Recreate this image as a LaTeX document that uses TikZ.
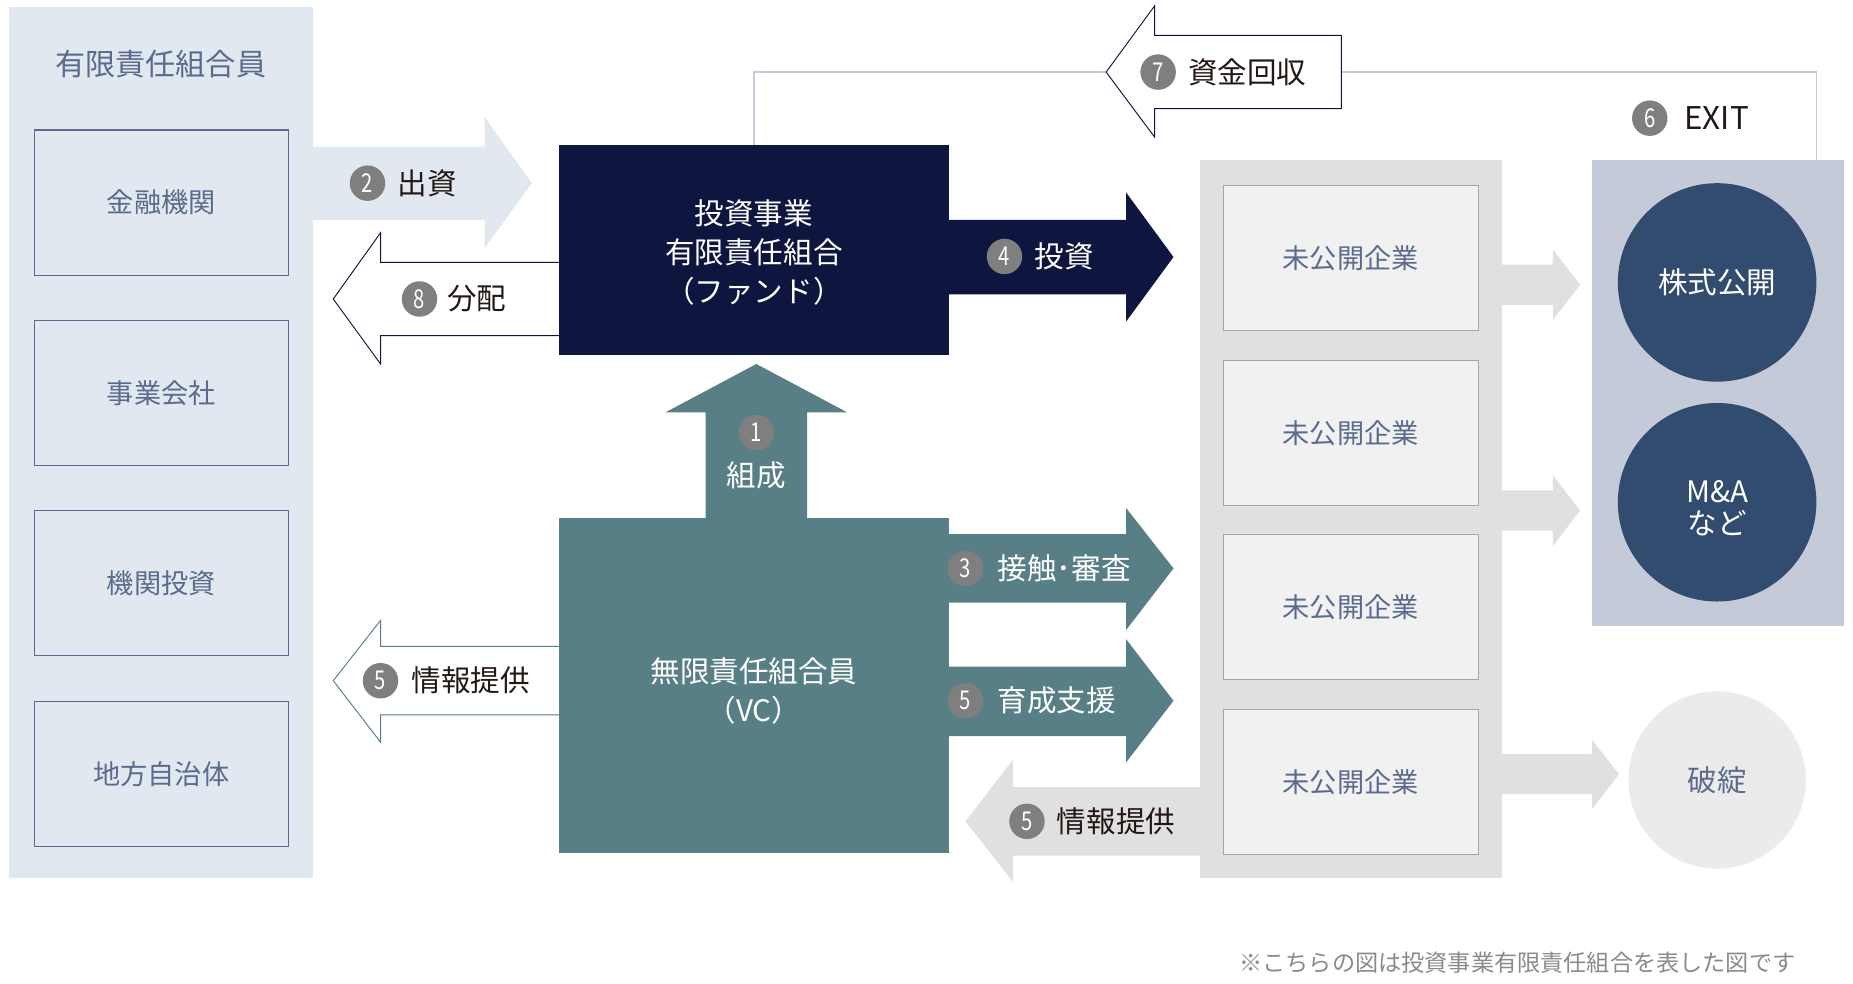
\documentclass[tikz,border=0pt]{standalone}
\usepackage{fontspec}
\setmainfont{Noto Sans CJK JP}
\newfontfamily\numfont[FakeStretch=0.78]{Noto Sans CJK JP}
\usetikzlibrary{positioning}

\definecolor{panelblue}{HTML}{E1E8EF}
\definecolor{slate}{HTML}{5B6B8E}
\definecolor{fundnavy}{HTML}{0E1640}
\definecolor{vcteal}{HTML}{577F85}
\definecolor{lightgray}{HTML}{E0E0E0}
\definecolor{cobox}{HTML}{F1F1F1}
\definecolor{coline}{HTML}{A6A6A6}
\definecolor{exitpanel}{HTML}{C4CAD8}
\definecolor{exitdot}{HTML}{324C70}
\definecolor{faildot}{HTML}{EBEBEB}
\definecolor{linkgray}{HTML}{C5CBD8}
\definecolor{darktext}{HTML}{231815}
\definecolor{numgray}{HTML}{7F7F7F}
\definecolor{notegray}{HTML}{8A8A8A}

\begin{document}
\begin{tikzpicture}[x=1pt, y=-1pt,
  panel/.style={inner sep=0pt},
  member/.style={draw=slate, line width=1pt, minimum width=215, minimum height=123, inner sep=0pt, text=slate, font=\fontsize{23}{23}\selectfont},
  company/.style={draw=coline, fill=cobox, line width=0.8pt, minimum width=216, minimum height=123, inner sep=0pt, text=slate, font=\fontsize{23}{23}\selectfont},
  numdot/.style={circle, fill=numgray, text=white, minimum size=30pt, inner sep=0pt, font=\numfont\fontsize{22}{22}\selectfont},
  flowtext/.style={inner sep=0pt, text=darktext, font=\fontsize{25}{25}\selectfont},
  bigtext/.style={inner sep=0pt, align=center, text=white, font=\fontsize{25}{33}\selectfont},
  linkline/.style={draw=linkgray, line width=1.2pt},
]
\useasboundingbox (0,0) rectangle (1568,832);

% panels
\node[panel, fill=panelblue, minimum width=257, minimum height=737] (lpanel) at (136.5,374.5) {};
\node[panel, fill=lightgray, minimum width=256, minimum height=608] (copanel) at (1143,439) {};
\node[panel, fill=exitpanel, minimum width=213, minimum height=395] (expanel) at (1453.5,332.5) {};

% limited partners
\node[text=slate, font=\fontsize{25.5}{25.5}\selectfont] (lptitle) at (136,54) {有限責任組合員};
\node[member] (bank) at (136.5,171.5) {金融機関};
\node[member] (corp) at (136.5,332.5) {事業会社};
\node[member] (inst) at (136.5,493.5) {機関投資};
\node[member] (local) at (136.5,655) {地方自治体};

% 7 return line
\coordinate (a7tip) at (936,61);
\coordinate (a7end) at (1135,61);
\coordinate (exittop) at (1537,135);
\node[panel, minimum width=330, minimum height=177] (fundpos) at (638,211.5) {};
\draw[linkline] (fundpos.north) |- (a7tip);
\draw[linkline] (a7end) -| (exittop);

% block arrows
\fill[panelblue] (260,124) -- (410,124) -- (410,99) -- (450,155) -- (410,210) -- (410,186) -- (260,186) -- cycle;
\draw[fundnavy, fill=white, line width=0.8pt] (480,222) -- (322,222) -- (322,197) -- (282,253) -- (322,308) -- (322,284) -- (480,284);
\draw[fundnavy, fill=white, line width=0.8pt] (1135,30) -- (977,30) -- (977,5) -- (936,61) -- (977,116) -- (977,92) -- (1135,92) -- cycle;
\fill[fundnavy] (798,186) -- (953,186) -- (953,163) -- (993,217.5) -- (953,272) -- (953,249) -- (798,249) -- cycle;
\fill[vcteal] (597,443) -- (597,349) -- (563,349) -- (640,308) -- (717,349) -- (683,349) -- (683,443) -- cycle;
\fill[vcteal] (798,452) -- (953,452) -- (953,430) -- (993,481) -- (953,533) -- (953,510) -- (798,510) -- cycle;
\fill[vcteal] (798,564) -- (953,564) -- (953,541) -- (993,593) -- (953,645) -- (953,623) -- (798,623) -- cycle;
\draw[vcteal, fill=white, line width=0.8pt] (480,547) -- (322,547) -- (322,525) -- (282,576) -- (322,628) -- (322,605) -- (480,605);
\fill[lightgray] (1020,666) -- (857,666) -- (857,643) -- (817,695) -- (857,746) -- (857,724) -- (1020,724) -- cycle;
\fill[lightgray] (1266,224) -- (1314,224) -- (1314,211) -- (1337,241) -- (1314,271) -- (1314,258) -- (1266,258) -- cycle;
\fill[lightgray] (1266,415) -- (1314,415) -- (1314,402) -- (1337,432) -- (1314,462) -- (1314,449) -- (1266,449) -- cycle;
\fill[lightgray] (1266,638) -- (1347,638) -- (1347,626) -- (1370,655) -- (1347,685) -- (1347,672) -- (1266,672) -- cycle;

% fund and VC
\node[panel, fill=fundnavy, minimum width=330, minimum height=177] (fund) at (638,211.5) {};
\node[bigtext] (fundtext) at (638,213.5) {投資事業\\有限責任組合\\（ファンド）};
\node[panel, fill=vcteal, minimum width=330, minimum height=284] (vc) at (638,580) {};
\node[bigtext] (vctext) at (638,585) {無限責任組合員\\（VC）};

% companies
\node[company] (co1) at (1143,218.5) {未公開企業};
\node[company] (co2) at (1143,366.5) {未公開企業};
\node[company] (co3) at (1143,513.5) {未公開企業};
\node[company] (co4) at (1143,661.5) {未公開企業};

% exits
\node[circle, fill=exitdot, minimum size=168pt, inner sep=0pt, text=white, font=\fontsize{25}{25}\selectfont] (ipo) at (1453,239) {株式公開};
\node[circle, fill=exitdot, minimum size=168pt, inner sep=0pt] (mna) at (1453,425) {};
\node[inner sep=0pt, text=white, align=center, font=\fontsize{25}{27}\selectfont] (mnatext) at (1453,430) {M\&A\\など};
\node[circle, fill=faildot, minimum size=150pt, inner sep=0pt, text=slate, font=\fontsize{25}{25}\selectfont] (fail) at (1453,660) {破綻};

% step labels
\node[numdot] (n2) at (311,155) {2};
\node[flowtext, right=10pt of n2] (t2) {出資};
\node[numdot] (n8) at (355,253) {8};
\node[flowtext, right=8pt of n8] (t8) {分配};
\node[numdot] (n7) at (980,61) {7};
\node[flowtext, right=10pt of n7] (t7) {資金回収};
\node[numdot] (n6) at (1396,100) {6};
\node[flowtext, font=\fontsize{26.5}{26.5}\selectfont, right=14pt of n6] (t6) {EXIT};
\node[numdot] (n4) at (850,217) {4};
\node[flowtext, text=white, right=10pt of n4] (t4) {投資};
\node[numdot] (n1) at (640,366) {1};
\node[flowtext, text=white, below=9pt of n1] (t1) {組成};
\node[numdot] (n3) at (817,481) {3};
\node[flowtext, text=white, right=12pt of n3] (t3) {接触･審査};
\node[numdot] (n5b) at (817,593) {5};
\node[flowtext, text=white, right=12pt of n5b] (t5b) {育成支援};
\node[numdot] (n5a) at (322,576) {5};
\node[flowtext, right=11pt of n5a] (t5a) {情報提供};
\node[numdot] (n5c) at (869,695) {5};
\node[flowtext, right=10pt of n5c] (t5c) {情報提供};

% note
\node[text=notegray, font=\fontsize{19.6}{19.6}\selectfont] (note) at (1284,815) {※こちらの図は投資事業有限責任組合を表した図です};
\end{tikzpicture}
\end{document}
